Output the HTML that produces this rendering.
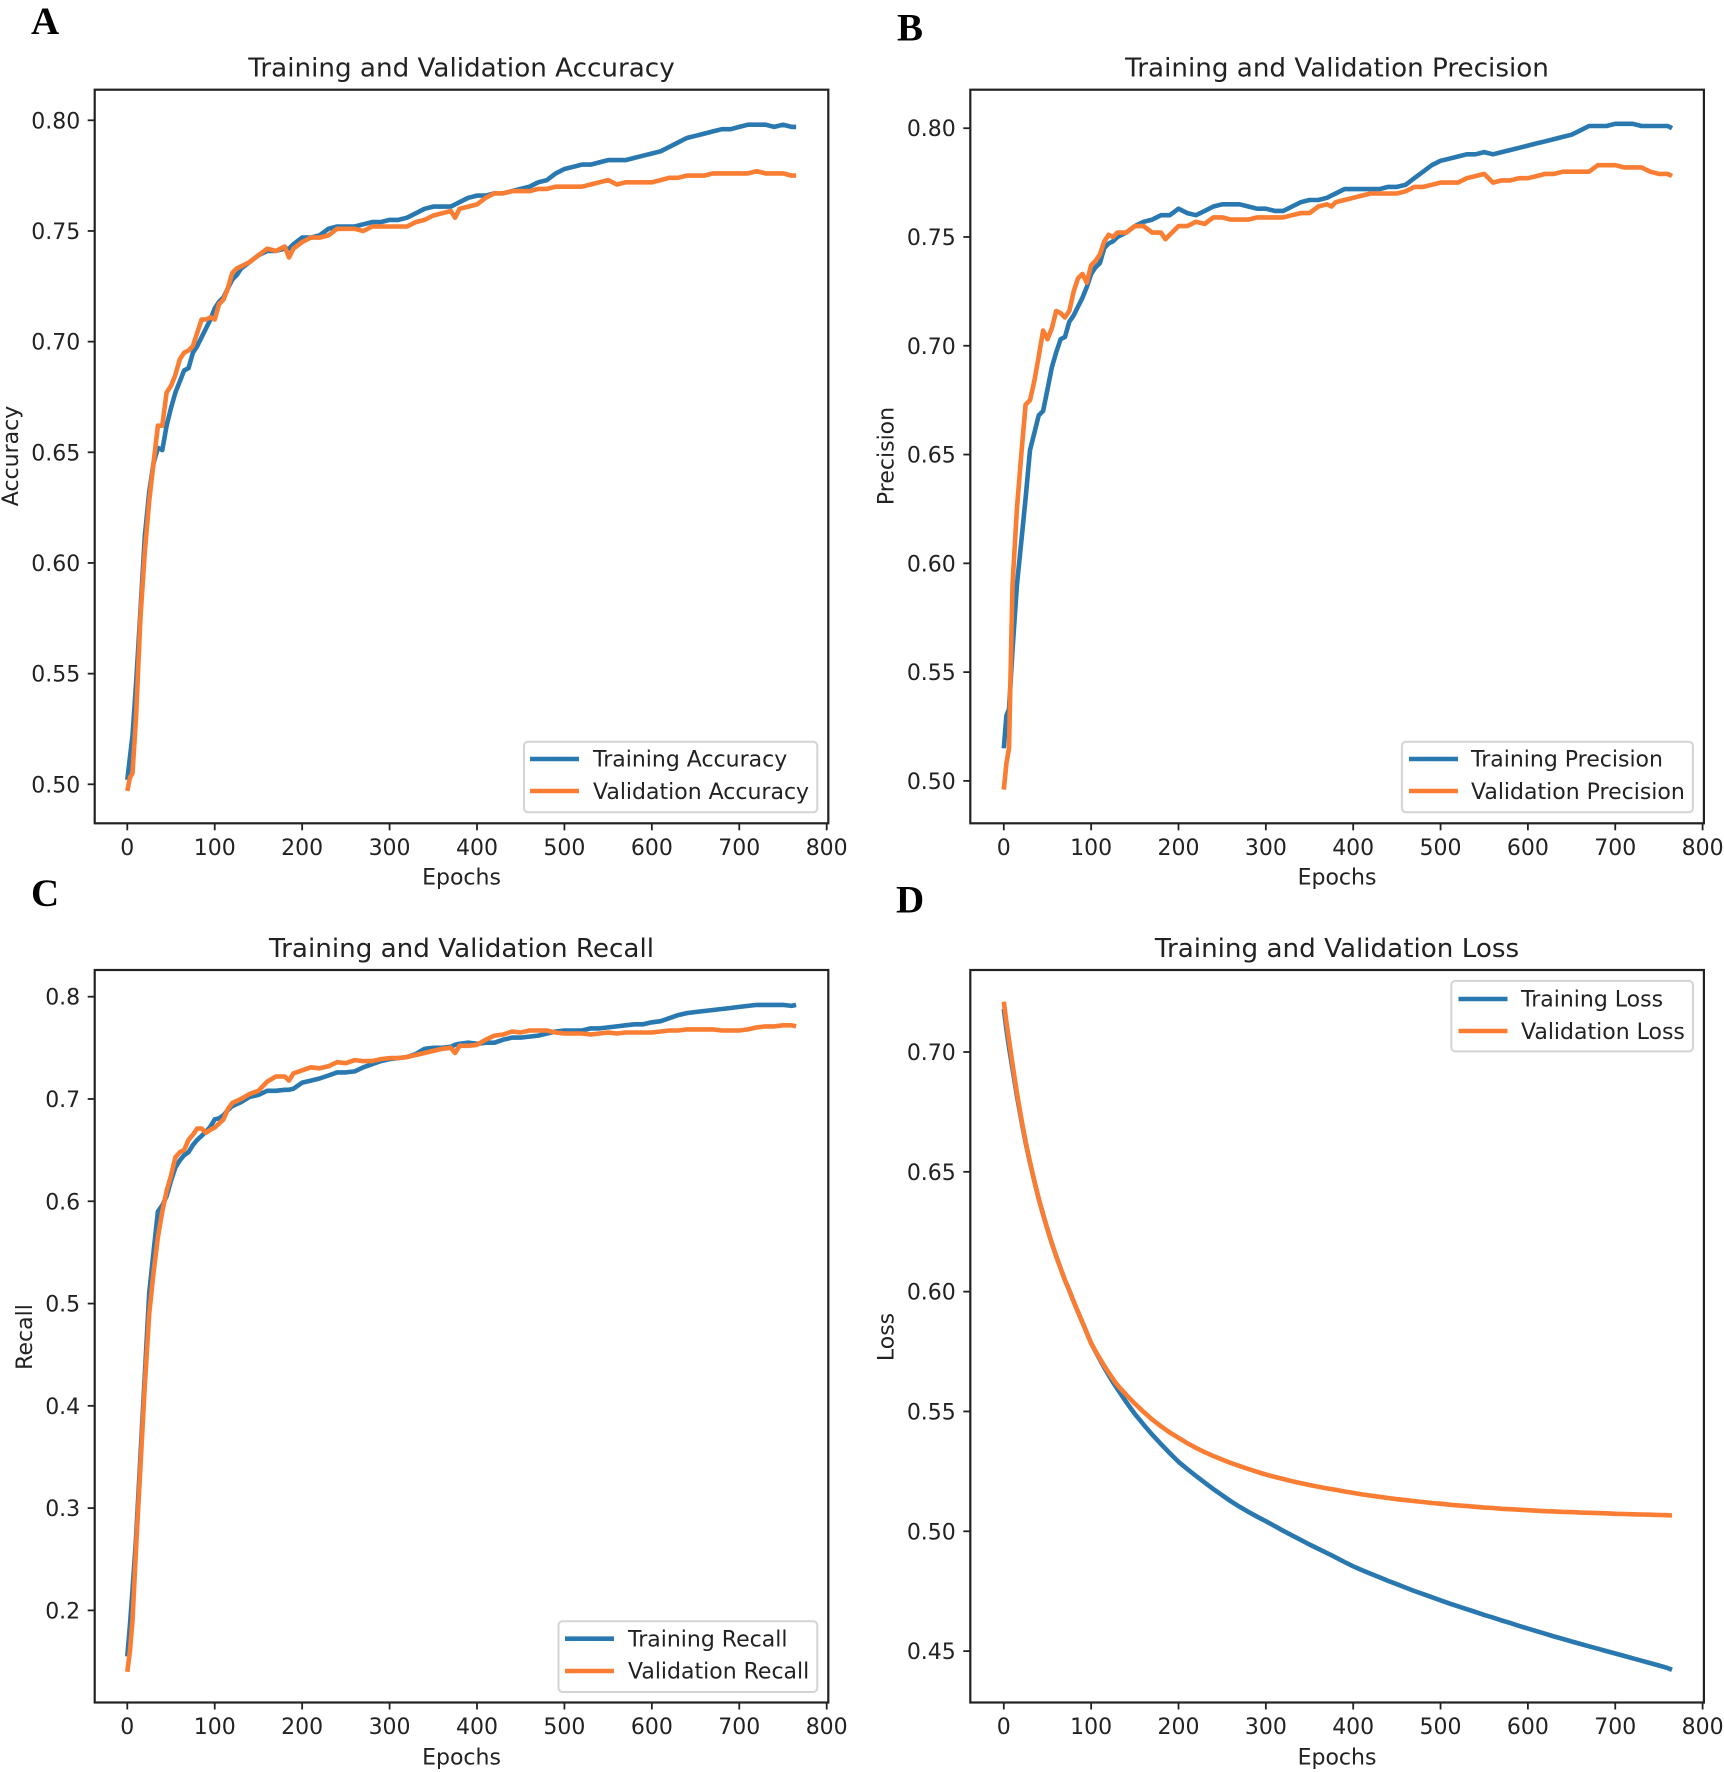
<!DOCTYPE html>
<html lang="en">
<head>
<meta charset="utf-8">
<title>Training and validation metrics</title>
<style>
  html, body { margin: 0; padding: 0; background: #fff; }
  svg { display: block; filter: blur(0.35px); }
  text { font-family: "DejaVu Sans", "Liberation Sans", sans-serif; fill: #222; }
  .title { font-size: 26.2px; text-anchor: middle; }
  .axis-label { font-size: 22px; text-anchor: middle; }
  .tick { font-size: 22px; }
  .legend-text { font-size: 22px; }
  .panel-letter { font-family: "Liberation Serif", serif; font-weight: bold; font-size: 39px; fill: #000; }
  .frame { fill: #fff; stroke: #222; stroke-width: 2.2; }
  .legend-box { fill: #fff; stroke: #d4d4d4; stroke-width: 2; }
  .train { stroke: #2a78b0; }
  .val { stroke: #f97d32; }
  .series { fill: none; stroke-width: 4.6; stroke-linejoin: round; stroke-linecap: butt; }
</style>
</head>
<body>
<svg id="chart" xmlns="http://www.w3.org/2000/svg" width="1724" height="1772" viewBox="0 0 1724 1772">
  <rect width="1724" height="1772" fill="#fff"/>

  <text class="panel-letter" x="31" y="34">A</text>
  <text class="panel-letter" x="897" y="40.6">B</text>
  <text class="panel-letter" x="31" y="906">C</text>
  <text class="panel-letter" x="896" y="912.5">D</text>

  <g id="panel-a">
    <rect class="frame" x="94.7" y="89.7" width="733.6" height="733.6"/>
    <g class="marks"></g>
    <text class="title" x="461.5" y="76.6">Training and Validation Accuracy</text>
    <text class="axis-label" x="461.5" y="884.5">Epochs</text>
    <text class="axis-label" transform="translate(18,456) rotate(-90)">Accuracy</text>
    <g>
      <rect class="legend-box" x="524" y="741.7" width="293.3" height="70.6" rx="4"/>
      <line class="series train" x1="530" x2="579" y1="759" y2="759"/>
      <line class="series val" x1="530" x2="579" y1="791" y2="791"/>
      <text class="legend-text" x="593" y="766.7">Training Accuracy</text>
      <text class="legend-text" x="593" y="799">Validation Accuracy</text>
    </g>
  </g>

  <g id="panel-b">
    <rect class="frame" x="970.3" y="89.7" width="733.6" height="733.6"/>
    <g class="marks"></g>
    <text class="title" x="1337" y="76.6">Training and Validation Precision</text>
    <text class="axis-label" x="1337" y="884.5">Epochs</text>
    <text class="axis-label" transform="translate(893.5,456) rotate(-90)">Precision</text>
    <g>
      <rect class="legend-box" x="1401.9" y="741.7" width="291" height="70.6" rx="4"/>
      <line class="series train" x1="1409" x2="1458" y1="759" y2="759"/>
      <line class="series val" x1="1409" x2="1458" y1="791" y2="791"/>
      <text class="legend-text" x="1471" y="766.7">Training Precision</text>
      <text class="legend-text" x="1471" y="799">Validation Precision</text>
    </g>
  </g>

  <g id="panel-c">
    <rect class="frame" x="94.7" y="970" width="733.6" height="732.5"/>
    <g class="marks"></g>
    <text class="title" x="461.5" y="956.9">Training and Validation Recall</text>
    <text class="axis-label" x="461.5" y="1764.5">Epochs</text>
    <text class="axis-label" transform="translate(32,1337) rotate(-90)">Recall</text>
    <g>
      <rect class="legend-box" x="558.5" y="1621.2" width="258.8" height="70.8" rx="4"/>
      <line class="series train" x1="565" x2="614" y1="1638.7" y2="1638.7"/>
      <line class="series val" x1="565" x2="614" y1="1671" y2="1671"/>
      <text class="legend-text" x="628" y="1646.4">Training Recall</text>
      <text class="legend-text" x="628" y="1678.7">Validation Recall</text>
    </g>
  </g>

  <g id="panel-d">
    <rect class="frame" x="970.3" y="970" width="733.6" height="732.5"/>
    <g class="marks"></g>
    <text class="title" x="1337" y="956.9">Training and Validation Loss</text>
    <text class="axis-label" x="1337" y="1764.5">Epochs</text>
    <text class="axis-label" transform="translate(893.5,1337) rotate(-90)">Loss</text>
    <g>
      <rect class="legend-box" x="1451.3" y="980.9" width="241.7" height="70.5" rx="4"/>
      <line class="series train" x1="1458.5" x2="1507.5" y1="999" y2="999"/>
      <line class="series val" x1="1458.5" x2="1507.5" y1="1031" y2="1031"/>
      <text class="legend-text" x="1521" y="1006.7">Training Loss</text>
      <text class="legend-text" x="1521" y="1039">Validation Loss</text>
    </g>
  </g>
</svg>

<script>
const epochs = [0,3,6,10,15,20,25,30,35,40,45,50,55,60,65,70,75,80,85,90,95,100,105,110,115,120,125,130,140,150,160,170,180,185,190,200,210,220,230,240,250,260,270,280,290,300,310,320,330,340,350,360,370,375,380,390,400,410,420,430,440,450,460,470,480,490,500,510,520,530,540,550,560,570,580,590,600,610,620,630,640,650,660,670,680,690,700,710,720,730,740,750,760,765];

const xTickLabels = ['0','100','200','300','400','500','600','700','800'];
const accuracyTickLabels = ['0.50','0.55','0.60','0.65','0.70','0.75','0.80'];
const precisionTickLabels = ['0.50','0.55','0.60','0.65','0.70','0.75','0.80'];
const recallTickLabels = ['0.2','0.3','0.4','0.5','0.6','0.7','0.8'];
const lossTickLabels = ['0.45','0.50','0.55','0.60','0.65','0.70'];

const trainingAccuracy = [.502,.512,.522,.545,.578,.612,.632,.645,.652,.651,.662,.670,.677,.682,.687,.688,.695,.698,.702,.706,.710,.715,.718,.720,.724,.728,.730,.733,.736,.739,.741,.741,.742,.742,.744,.747,.747,.748,.751,.752,.752,.752,.753,.754,.754,.755,.755,.756,.758,.760,.761,.761,.761,.762,.763,.765,.766,.766,.767,.767,.768,.769,.770,.772,.773,.776,.778,.779,.780,.780,.781,.782,.782,.782,.783,.784,.785,.786,.788,.790,.792,.793,.794,.795,.796,.796,.797,.798,.798,.798,.797,.798,.797,.797];
const validationAccuracy = [.497,.503,.505,.530,.575,.605,.628,.645,.662,.662,.677,.680,.685,.692,.695,.696,.698,.704,.710,.710,.711,.710,.717,.719,.724,.731,.733,.734,.736,.739,.742,.741,.743,.738,.742,.745,.747,.747,.748,.751,.751,.751,.750,.752,.752,.752,.752,.752,.754,.755,.757,.758,.759,.756,.760,.761,.762,.765,.767,.767,.768,.768,.768,.769,.769,.770,.770,.770,.770,.771,.772,.773,.771,.772,.772,.772,.772,.773,.774,.774,.775,.775,.775,.776,.776,.776,.776,.776,.777,.776,.776,.776,.775,.775];

const trainingPrecision = [.515,.530,.533,.560,.590,.610,.630,.652,.660,.668,.670,.680,.690,.697,.703,.704,.711,.714,.718,.722,.727,.733,.736,.738,.745,.747,.748,.750,.752,.755,.757,.758,.760,.760,.760,.763,.761,.760,.762,.764,.765,.765,.765,.764,.763,.763,.762,.762,.764,.766,.767,.767,.768,.769,.770,.772,.772,.772,.772,.772,.773,.773,.774,.777,.780,.783,.785,.786,.787,.788,.788,.789,.788,.789,.790,.791,.792,.793,.794,.795,.796,.797,.799,.801,.801,.801,.802,.802,.802,.801,.801,.801,.801,.800];
const validationPrecision = [.496,.508,.515,.590,.625,.650,.673,.675,.684,.695,.707,.703,.708,.716,.715,.713,.716,.725,.731,.733,.729,.737,.739,.742,.748,.751,.750,.752,.752,.755,.755,.752,.752,.749,.751,.755,.755,.757,.756,.759,.759,.758,.758,.758,.759,.759,.759,.759,.760,.761,.761,.764,.765,.764,.766,.767,.768,.769,.770,.770,.770,.770,.771,.773,.773,.774,.775,.775,.775,.777,.778,.779,.775,.776,.776,.777,.777,.778,.779,.779,.780,.780,.780,.780,.783,.783,.783,.782,.782,.782,.780,.779,.779,.778];

const trainingRecall = [.155,.185,.220,.270,.350,.430,.510,.550,.590,.596,.605,.620,.633,.640,.645,.648,.655,.660,.664,.668,.673,.680,.681,.684,.689,.693,.695,.697,.702,.704,.708,.708,.709,.709,.710,.716,.718,.720,.723,.726,.726,.727,.731,.734,.737,.739,.740,.741,.744,.749,.750,.750,.751,.753,.754,.755,.754,.755,.755,.758,.760,.760,.761,.762,.764,.766,.767,.767,.767,.769,.769,.770,.771,.772,.773,.773,.775,.776,.779,.782,.784,.785,.786,.787,.788,.789,.790,.791,.792,.792,.792,.792,.791,.792];
const validationRecall = [.140,.160,.190,.260,.340,.420,.490,.530,.565,.590,.610,.625,.643,.648,.650,.660,.665,.671,.671,.667,.670,.672,.676,.680,.690,.696,.698,.700,.705,.708,.717,.722,.722,.718,.725,.728,.731,.730,.732,.736,.735,.738,.737,.737,.739,.740,.740,.741,.743,.745,.747,.749,.750,.745,.752,.752,.753,.758,.762,.763,.766,.765,.767,.767,.767,.765,.764,.764,.764,.763,.764,.765,.764,.765,.765,.765,.765,.766,.767,.767,.768,.768,.768,.768,.767,.767,.767,.768,.770,.771,.771,.772,.772,.771];

const trainingLoss = [.7180,.7095,.7020,.6930,.6818,.6715,.6622,.6538,.6460,.6388,.6322,.6260,.6202,.6148,.6097,.6048,.6005,.5958,.5915,.5872,.5828,.5785,.5750,.5716,.5683,.5652,.5622,.5594,.5540,.5490,.5445,.5403,.5364,.5345,.5326,.5290,.5260,.5231,.5203,.5176,.5150,.5125,.5102,.5081,.5061,.5042,.5022,.5002,.4983,.4964,.4945,.4927,.4909,.4900,.4891,.4872,.4854,.4838,.4823,.4808,.4793,.4779,.4765,.4751,.4738,.4725,.4712,.4699,.4687,.4675,.4663,.4651,.4640,.4628,.4617,.4605,.4594,.4583,.4572,.4561,.4551,.4540,.4530,.4520,.4510,.4500,.4490,.4480,.4470,.4460,.4450,.4440,.4429,.4422];
const validationLoss = [.7210,.7125,.7050,.6950,.6830,.6722,.6626,.6540,.6461,.6388,.6322,.6260,.6202,.6148,.6097,.6048,.6005,.5958,.5915,.5872,.5828,.5785,.5752,.5720,.5690,.5662,.5635,.5610,.5570,.5533,.5498,.5466,.5438,.5425,.5412,.5390,.5368,.5348,.5330,.5314,.5299,.5285,.5272,.5260,.5248,.5237,.5227,.5218,.5209,.5201,.5193,.5186,.5179,.5176,.5173,.5166,.5160,.5154,.5149,.5144,.5139,.5134,.5130,.5126,.5122,.5118,.5115,.5111,.5108,.5105,.5102,.5099,.5097,.5094,.5092,.5090,.5088,.5086,.5084,.5083,.5081,.5080,.5078,.5077,.5076,.5075,.5073,.5072,.5071,.5070,.5069,.5068,.5067,.5066];

const SVG_NS = 'http://www.w3.org/2000/svg';

function makeLinear(v0, p0, v1, p1) {
  return function (v) { return p0 + (v - v0) * (p1 - p0) / (v1 - v0); };
}

function drawPanel(groupId, key, frame, xAxis, yAxis, yLabels, train, val) {
  const marks = document.querySelector('#' + groupId + ' .marks');

  xTickLabels.forEach(function (label) {
    const px = xAxis(parseFloat(label));
    const tick = document.createElementNS(SVG_NS, 'line');
    
    
    tick.setAttribute('x1', px);
    tick.setAttribute('x2', px);
    tick.setAttribute('y1', frame.bottom);
    tick.setAttribute('y2', frame.bottom + 7);
    tick.setAttribute('stroke', '#222');
    tick.setAttribute('stroke-width', '1.8');
    marks.appendChild(tick);
    const text = document.createElementNS(SVG_NS, 'text');
    
    
    text.setAttribute('class', 'tick');
    text.setAttribute('x', px);
    text.setAttribute('y', frame.bottom + 31.5);
    text.setAttribute('text-anchor', 'middle');
    text.textContent = label;
    marks.appendChild(text);
  });

  yLabels.forEach(function (label) {
    const py = yAxis(parseFloat(label));
    const tick = document.createElementNS(SVG_NS, 'line');
    
    
    tick.setAttribute('x1', frame.left - 7);
    tick.setAttribute('x2', frame.left);
    tick.setAttribute('y1', py);
    tick.setAttribute('y2', py);
    tick.setAttribute('stroke', '#222');
    tick.setAttribute('stroke-width', '1.8');
    marks.appendChild(tick);
    const text = document.createElementNS(SVG_NS, 'text');
    
    
    text.setAttribute('class', 'tick');
    text.setAttribute('x', frame.left - 14.5);
    text.setAttribute('y', py + 8);
    text.setAttribute('text-anchor', 'end');
    text.textContent = label;
    marks.appendChild(text);
  });

  const toPoints = function (values) {
    return values.map(function (v, i) {
      return xAxis(epochs[i]).toFixed(1) + ',' + yAxis(v).toFixed(1);
    }).join(' ');
  };

  const trainLine = document.createElementNS(SVG_NS, 'polyline');
  
  
  trainLine.setAttribute('class', 'series train');
  trainLine.setAttribute('points', toPoints(train));
  marks.appendChild(trainLine);

  const valLine = document.createElementNS(SVG_NS, 'polyline');
  
  
  valLine.setAttribute('class', 'series val');
  valLine.setAttribute('points', toPoints(val));
  marks.appendChild(valLine);
}

const leftX = makeLinear(0, 127.3, 800, 826.7);
const rightX = makeLinear(0, 1003.8, 800, 1702.6);

drawPanel('panel-a', 'accuracy', { left: 94.7, bottom: 823.3 }, leftX,
  makeLinear(0.5, 784.3, 0.8, 120.3), accuracyTickLabels, trainingAccuracy, validationAccuracy);
drawPanel('panel-b', 'precision', { left: 970.3, bottom: 823.3 }, rightX,
  makeLinear(0.5, 780.9, 0.8, 128.2), precisionTickLabels, trainingPrecision, validationPrecision);
drawPanel('panel-c', 'recall', { left: 94.7, bottom: 1702.5 }, leftX,
  makeLinear(0.2, 1610.4, 0.8, 996.7), recallTickLabels, trainingRecall, validationRecall);
drawPanel('panel-d', 'loss', { left: 970.3, bottom: 1702.5 }, rightX,
  makeLinear(0.45, 1651.1, 0.7, 1052), lossTickLabels, trainingLoss, validationLoss);
</script>
</body>
</html>
